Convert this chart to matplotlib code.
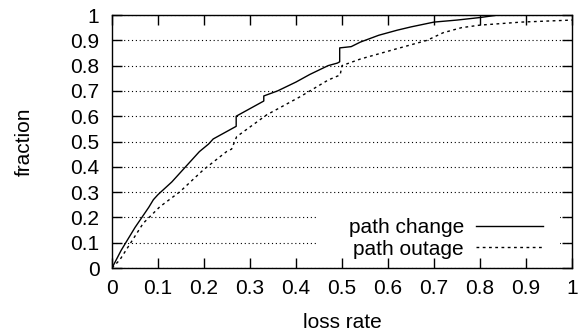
import matplotlib
matplotlib.use('Agg')
import matplotlib.pyplot as plt
from matplotlib.patches import Rectangle

plt.rcParams['font.family'] = ['Liberation Sans', 'DejaVu Sans']

# path change CDF (solid)
change_x = [0, 0.02, 0.05, 0.08, 0.09, 0.10, 0.13, 0.16, 0.19, 0.21, 0.22, 0.24, 0.26,
            0.27, 0.27, 0.30, 0.33, 0.33, 0.36, 0.40, 0.43, 0.47, 0.49, 0.495, 0.495,
            0.52, 0.54, 0.58, 0.62, 0.65, 0.70, 0.75, 0.80, 0.84, 1.0]
change_y = [0, 0.07, 0.16, 0.24, 0.27, 0.29, 0.34, 0.40, 0.46, 0.49, 0.51, 0.53, 0.55,
            0.56, 0.60, 0.63, 0.66, 0.68, 0.70, 0.735, 0.765, 0.80, 0.81, 0.815, 0.87,
            0.875, 0.893, 0.92, 0.94, 0.953, 0.972, 0.98, 0.99, 1.0, 1.0]

# path outage CDF (dashed)
outage_x = [0, 0.017, 0.068, 0.104, 0.148, 0.198, 0.249, 0.26, 0.271, 0.336, 0.409,
            0.47, 0.496, 0.50, 0.54, 0.61, 0.685, 0.72, 0.76, 0.80, 0.89, 1.0]
outage_y = [0, 0.032, 0.177, 0.242, 0.302, 0.387, 0.46, 0.47, 0.519, 0.605, 0.677,
            0.743, 0.763, 0.80, 0.826, 0.862, 0.90, 0.93, 0.95, 0.96, 0.972, 0.98]

ticks = [i / 10 for i in range(11)]
tick_labels = ['0', '0.1', '0.2', '0.3', '0.4', '0.5', '0.6', '0.7', '0.8', '0.9', '1']

fig = plt.figure(figsize=(5.79, 3.35), dpi=100)
ax = fig.add_axes([0.1934, 0.2, 0.7945, 0.7552])

ax.plot(change_x, change_y, color='black', lw=1.0, label='path change', zorder=3)
ax.plot(outage_x, outage_y, color='black', lw=1.0, dashes=(2, 2.5),
        label='path outage', zorder=3)

ax.set_xlim(0, 1)
ax.set_ylim(0, 1)
ax.set_xticks(ticks)
ax.set_xticklabels(tick_labels)
ax.set_yticks(ticks)
ax.set_yticklabels(tick_labels)
ax.tick_params(direction='in', length=7, width=1, labelsize=15,
               top=True, right=True, color='black')
ax.tick_params(axis='y', pad=9)
ax.tick_params(axis='x', pad=8)

ax.set_axisbelow(True)
ax.yaxis.grid(True, linestyle=(0, (1, 2.5)), color='black', lw=0.8)
for s in ax.spines.values():
    s.set_linewidth(1.0)

# white area behind the key hides the grid lines
ax.add_patch(Rectangle((0.446, 0.05), 0.528, 0.2, transform=ax.transAxes,
                       facecolor='white', edgecolor='none', zorder=1))

ax.legend(loc='center right', bbox_to_anchor=(0.937, 0.117), frameon=False,
          markerfirst=False, fontsize=15, handlelength=3.2, handletextpad=0.6,
          labelspacing=0.12, borderpad=0, borderaxespad=0)

ax.set_xlabel('loss rate', fontsize=15, labelpad=11)
ax.set_ylabel('fraction', fontsize=15, labelpad=26)

fig.savefig('out.png', dpi=100)
